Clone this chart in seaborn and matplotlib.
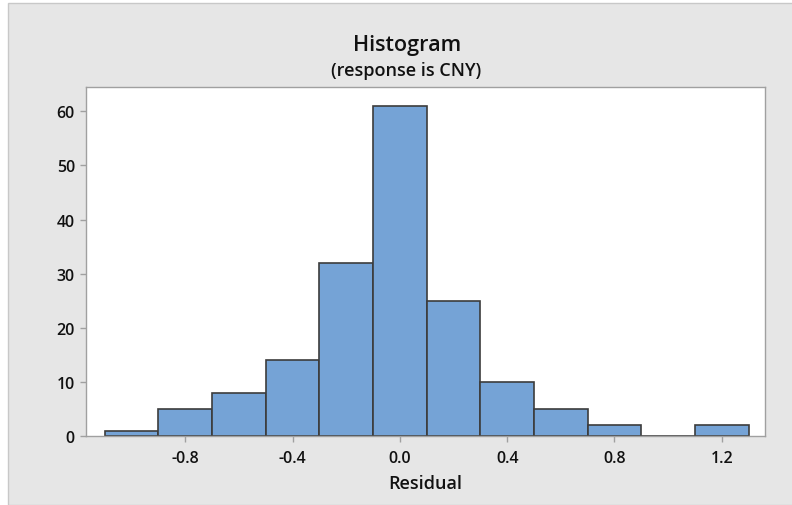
import numpy as np
import matplotlib
matplotlib.use("Agg")
import matplotlib.pyplot as plt
import seaborn as sns
from matplotlib.patches import Rectangle

# bin centres and counts
bin_centers = [-1.0, -0.8, -0.6, -0.4, -0.2, 0.0, 0.2, 0.4, 0.6, 0.8, 1.0, 1.2]
counts = [1, 5, 8, 14, 32, 61, 25, 10, 5, 2, 0, 2]
x_ticks = [-0.8, -0.4, 0.0, 0.4, 0.8, 1.2]
y_ticks = [0, 10, 20, 30, 40, 50, 60]

sns.set_theme(style="white")
plt.rcParams["font.family"] = ["Open Sans", "DejaVu Sans"]

fig = plt.figure(figsize=(7.92, 5.06), dpi=100, facecolor="white")
fig.patches.append(Rectangle((8 / 792, 0), 1, 1 - 4 / 506, transform=fig.transFigure,
                             facecolor="#e6e6e6", edgecolor="#c8c8c8", lw=1, zorder=-1))
ax = fig.add_axes([86 / 792, 1 - 437 / 506, (765 - 86) / 792, (437 - 88) / 506])
ax.set_facecolor("white")

sns.histplot(x=bin_centers, weights=counts, binwidth=0.2, binrange=(-1.1, 1.3),
             color="#75a3d6", edgecolor="#3c3c3c", linewidth=1.2, alpha=1, ax=ax)

ax.set_xlim(-1.170, 1.361)
ax.set_ylim(0, 64.5)
ax.set_xticks(x_ticks)
ax.set_xticklabels([f"{t:.1f}" for t in x_ticks])
ax.set_yticks(y_ticks)
ax.tick_params(axis="both", direction="out", length=4, width=1, color="#a0a0a0",
               labelsize=11.5, labelcolor="#111111", bottom=True, left=True, pad=4)
ax.tick_params(axis="x", pad=6)
for lab in ax.get_xticklabels() + ax.get_yticklabels():
    lab.set_fontweight("semibold")
for s in ax.spines.values():
    s.set_color("#a0a0a0")
    s.set_linewidth(1)

ax.set_ylabel("")
ax.set_xlabel("Residual", fontsize=13, color="#111111", labelpad=6, fontweight="semibold")

fig.text(407 / 792, 1 - 45 / 506, "Histogram", ha="center", va="center",
         fontsize=15.5, color="#111111", fontweight="semibold")
fig.text(406 / 792, 1 - 71 / 506, "(response is CNY)", ha="center", va="center",
         fontsize=13, color="#111111", fontweight="semibold")

fig.savefig("out.png", dpi=100, facecolor=fig.get_facecolor())
